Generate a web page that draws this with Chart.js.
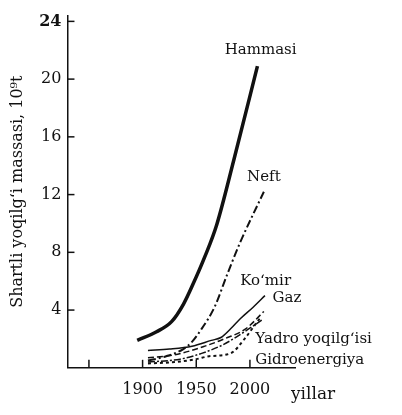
<!DOCTYPE html>
<html>
<head>
<meta charset="utf-8">
<script src="https://cdn.jsdelivr.net/npm/chart.js@4.4.0/dist/chart.umd.min.js"></script>
<style>
  body { margin: 0; background: #fff; }
  #wrap { width: 402px; height: 415px; }
</style>
</head>
<body>
<div id="wrap"><canvas id="fuelChart" width="402" height="415"></canvas></div>
<script>
// values (10^9 t of standard fuel)
var xTicks = [1850, 1900, 1950, 2000];
var yTicks = [4, 8, 12, 16, 20, 24];

var hammasiYears = [1895, 1913, 1927, 1938, 1947, 1958, 1969, 1985, 2007];
var hammasiValues = [1.9, 2.5, 3.2, 4.4, 5.8, 7.7, 9.9, 14.4, 20.9];

var neftYears = [1905, 1922, 1938, 1946, 1955, 1967, 1979, 1991, 2013];
var neftValues = [0.5, 0.8, 1.3, 1.8, 2.7, 4.2, 6.5, 8.7, 12.2];

var komirYears = [1905, 1925, 1946, 1964, 1973, 1982, 1991, 2003, 2014];
var komirValues = [1.2, 1.3, 1.5, 1.9, 2.1, 2.7, 3.4, 4.2, 5.0];

var gazYears = [1905, 1930, 1958, 1976, 1996, 2013];
var gazValues = [0.7, 0.9, 1.5, 2.0, 2.7, 3.9];

var yadroYears = [1905, 1935, 1955, 1975, 1995, 2011];
var yadroValues = [0.4, 0.6, 1.0, 1.6, 2.5, 3.3];

var gidroYears = [1905, 1930, 1950, 1962, 1982, 1995, 2003, 2009];
var gidroValues = [0.3, 0.4, 0.6, 0.8, 1.0, 2.0, 2.8, 3.4];

// where the curve names sit (in data units)
var curveLabels = [
  { text: 'Hammasi', x: 2010, y: 22.0, align: 'center' },
  { text: 'Neft', x: 2013, y: 13.2, align: 'center' },
  { text: 'Ko\u2018mir', x: 1991, y: 6.0, align: 'left' },
  { text: 'Gaz', x: 2021, y: 4.8, align: 'left' },
  { text: 'Yadro yoqilg\u2018isi', x: 2005, y: 2.0, align: 'left' },
  { text: 'Gidroenergiya', x: 2005, y: 0.5, align: 'left' }
];

var ink = '#111';
var serif = '"DejaVu Serif", "Liberation Serif", serif';

function toPoints(xs, ys) {
  return xs.map(function(x, i) { return { x: x, y: ys[i] }; });
}

function line(label, xs, ys, width, dash) {
  return {
    label: label,
    data: toPoints(xs, ys),
    borderColor: ink,
    borderWidth: width,
    borderDash: dash,
    fill: false,
    pointRadius: 0,
    cubicInterpolationMode: 'monotone'
  };
}

var innerTicks = {
  id: 'innerTicks',
  afterDraw: function(chart) {
    var c = chart.ctx, xs = chart.scales.x, ys = chart.scales.y;
    c.save();
    c.strokeStyle = ink;
    c.lineWidth = 1.5;
    yTicks.forEach(function(v) {
      var py = ys.getPixelForValue(v);
      c.beginPath(); c.moveTo(xs.left, py); c.lineTo(xs.left + 7, py); c.stroke();
    });
    xTicks.forEach(function(v) {
      var px = xs.getPixelForValue(v);
      c.beginPath(); c.moveTo(px, ys.bottom); c.lineTo(px, ys.bottom - 8); c.stroke();
    });
    // axis unit at the right end of the x axis
    c.fillStyle = ink;
    c.font = '17px ' + serif;
    c.textAlign = 'left';
    c.textBaseline = 'middle';
    c.fillText('yillar', xs.right - 4, ys.bottom + 27);
    // curve names
    c.font = '15px ' + serif;
    curveLabels.forEach(function(l) {
      c.textAlign = l.align;
      c.fillText(l.text, xs.getPixelForValue(l.x), ys.getPixelForValue(l.y));
    });
    c.restore();
  }
};

var ctx = document.getElementById('fuelChart').getContext('2d');
var chart = new Chart(ctx, {
  type: 'line',
  data: {
    datasets: [
      line('Hammasi', hammasiYears, hammasiValues, 3.5, []),
      line('Neft', neftYears, neftValues, 2, [8, 3, 2, 3]),
      line('Ko\u2018mir', komirYears, komirValues, 1.5, []),
      line('Gaz', gazYears, gazValues, 1.5, [6, 3]),
      line('Yadro yoqilg\u2018isi', yadroYears, yadroValues, 1.5, [7, 2, 2, 2]),
      line('Gidroenergiya', gidroYears, gidroValues, 2, [3, 3])
    ]
  },
  options: {
    responsive: false,
    animation: false,
    layout: { padding: { left: 8, right: 107, top: 12, bottom: 4 } },
    plugins: { legend: { display: false }, tooltip: { enabled: false } },
    scales: {
      x: {
        type: 'linear',
        min: 1830,
        max: 2042,
        afterBuildTicks: function(axis) {
          axis.ticks = xTicks.map(function(v) { return { value: v }; });
        },
        grid: { display: false, drawTicks: false },
        border: { display: true, color: ink, width: 1.5 },
        ticks: {
          color: ink,
          font: { family: serif, size: 16 },
          padding: 12,
          maxRotation: 0,
          autoSkip: false,
          callback: function(v) { return v === 1850 ? '' : String(v); }
        }
      },
      y: {
        min: 0,
        max: 24.4,
        afterBuildTicks: function(axis) {
          axis.ticks = yTicks.map(function(v) { return { value: v }; });
        },
        grid: { display: false, drawTicks: false },
        border: { display: true, color: ink, width: 1.5 },
        ticks: {
          color: ink,
          font: function(c) {
            return { family: serif, size: 16, weight: c.tick && c.tick.value === 24 ? 'bold' : 'normal' };
          },
          padding: 6
        },
        title: {
          display: true,
          text: 'Shartli yoqilg\u2018i massasi, 10\u2079t',
          color: ink,
          font: { family: serif, size: 16 },
          padding: { top: 0, bottom: 6 }
        }
      }
    }
  },
  plugins: [innerTicks]
});
</script>
</body>
</html>
